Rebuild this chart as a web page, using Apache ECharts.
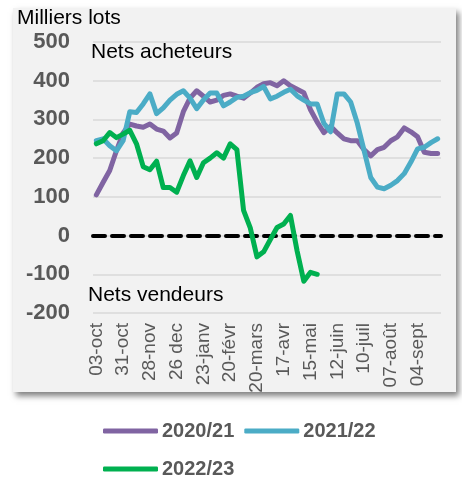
<!DOCTYPE html>
<html>
<head>
<meta charset="utf-8">
<script src="https://cdn.jsdelivr.net/npm/echarts@6/dist/echarts.min.js"></script>
<style>
  html, body { margin: 0; padding: 0; background: #fff; }
  #chart { width: 462px; height: 478px; }
</style>
</head>
<body>
<div id="chart"></div>
<script>
var weeks = ['03-oct', '10-oct', '17-oct', '24-oct', '31-oct', '07-nov', '14-nov', '21-nov',
  '28-nov', '05-dec', '12-dec', '19-dec', '26 dec', '02-janv', '09-janv', '16-janv',
  '23-janv', '30-janv', '06-févr', '13-févr', '20-févr', '27-févr', '06-mars', '13-mars',
  '20-mars', '27-mars', '03-avr', '10-avr', '17-avr', '24-avr', '01-mai', '08-mai',
  '15-mai', '22-mai', '29-mai', '05-juin', '12-juin', '19-juin', '26-juin', '03-juil',
  '10-juil', '17-juil', '24-juil', '31-juil', '07-août', '14-août', '21-août', '28-août',
  '04-sept', '11-sept', '18-sept', '25-sept'];

var s2020 = [105, 137, 168, 219, 265, 288, 283, 280, 288, 275, 270, 252, 265,
  320, 355, 374, 360, 345, 350, 362, 366, 360, 355, 368, 383, 392,
  395, 387, 400, 387, 378, 369, 325, 293, 266, 282, 265, 250, 245,
  245, 222, 206, 222, 228, 245, 255, 278, 268, 255, 215, 212, 212];

var s2021 = [245, 250, 232, 219, 245, 320, 318, 340, 366, 315, 330, 350, 365,
  374, 355, 328, 350, 368, 368, 335, 345, 357, 360, 369, 375, 385,
  353, 360, 370, 378, 361, 350, 340, 340, 290, 268, 366, 366, 345,
  290, 220, 150, 125, 121, 130, 142, 160, 190, 224, 228, 240, 250];

var s2022 = [237, 245, 266, 253, 262, 272, 237, 178, 170, 192, 124, 124, 112,
  155, 193, 150, 188, 200, 214, 200, 237, 222, 65, 20, -55, -42,
  -10, 21, 30, 52, -40, -118, -95, -100];

var names = ['2020/21', '2021/22', '2022/23'];
var colors = ['#8064a2', '#4bacc6', '#00b050'];

var chart = echarts.init(document.getElementById('chart'));

function lineSeries(idx, data) {
  return {
    name: names[idx],
    type: 'line',
    data: data,
    symbol: 'none',
    smooth: false,
    lineStyle: { width: 5, color: colors[idx], cap: 'round', join: 'round' },
    itemStyle: { color: colors[idx] },
    z: 3 + idx
  };
}

var legendText = { fontSize: 20, fontWeight: 'bold', color: '#595959', padding: [0, 0, 0, -1] };

var option = {
  animation: false,
  textStyle: { fontFamily: 'Liberation Sans, Arial, sans-serif' },
  graphic: [
    {
      type: 'rect',
      z: -10,
      shape: { x: 13, y: 8, width: 443, height: 384 },
      style: {
        fill: '#f2f2f2',
        shadowBlur: 6,
        shadowOffsetX: 3,
        shadowOffsetY: 4,
        shadowColor: 'rgba(0,0,0,0.5)'
      }
    },
    {
      type: 'text', left: 17, top: 8, z: 10,
      style: { text: 'Milliers lots', fontSize: 21, fill: '#000', fontFamily: 'Liberation Sans, Arial' }
    },
    {
      type: 'text', left: 91, top: 42, z: 10,
      style: { text: 'Nets acheteurs', fontSize: 21, fill: '#000', fontFamily: 'Liberation Sans, Arial' }
    },
    {
      type: 'text', left: 88, top: 285, z: 10,
      style: { text: 'Nets vendeurs', fontSize: 21, fill: '#000', fontFamily: 'Liberation Sans, Arial' }
    }
  ],
  legend: [
    {
      data: [names[0], names[1]],
      left: 103, top: 421, padding: 0,
      itemWidth: 55, itemHeight: 5, itemGap: 10,
      icon: 'roundRect',
      textStyle: legendText
    },
    {
      data: [names[2]],
      left: 103, top: 459, padding: 0,
      itemWidth: 55, itemHeight: 5, itemGap: 10,
      icon: 'roundRect',
      textStyle: legendText
    }
  ],
  grid: { left: 93, right: 21, top: 42, bottom: 165, containLabel: false },
  xAxis: {
    type: 'category',
    data: weeks,
    boundaryGap: true,
    axisLine: { show: false },
    axisTick: { show: false },
    axisLabel: {
      interval: 3,
      rotate: 90,
      fontSize: 19,
      color: '#595959',
      margin: 10
    }
  },
  yAxis: {
    type: 'value',
    min: -200,
    max: 500,
    interval: 100,
    axisLine: { show: false },
    axisTick: { show: false },
    axisLabel: { fontSize: 22, fontWeight: 'bold', color: '#595959', margin: 23 },
    splitLine: { lineStyle: { color: '#d9d9d9', width: 1.5 } }
  },
  series: [
    Object.assign(lineSeries(0, s2020), {
      markLine: {
        silent: true,
        symbol: 'none',
        label: { show: false },
        lineStyle: { color: '#000', width: 4, type: [12, 7], cap: 'round' },
        data: [{ yAxis: 0 }],
        z: 2
      }
    }),
    lineSeries(1, s2021),
    lineSeries(2, s2022)
  ]
};

chart.setOption(option);
</script>
</body>
</html>
